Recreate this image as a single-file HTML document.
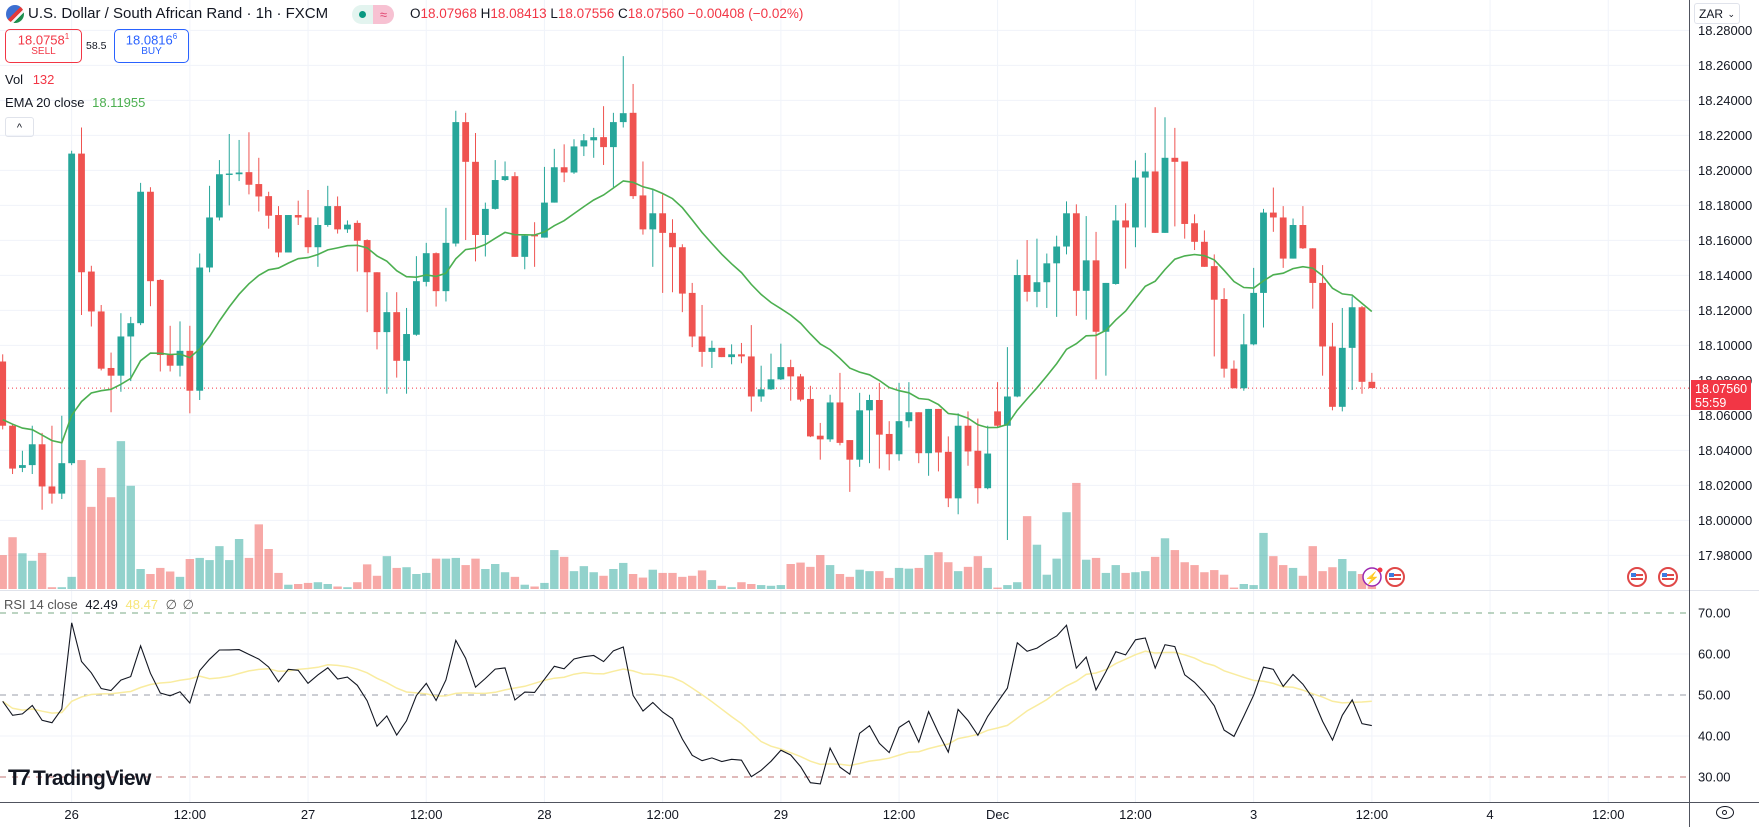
<!DOCTYPE html>
<html><head><meta charset="utf-8">
<style>
html,body{margin:0;padding:0;background:#fff;width:1759px;height:827px;overflow:hidden;font-family:"Liberation Sans",sans-serif;}
#wrap{position:relative;width:1759px;height:827px;}
svg{position:absolute;left:0;top:0;}
.hdr{position:absolute;white-space:nowrap;color:#131722;}
</style></head>
<body>
<div id="wrap">
<svg id="chart" width="1759" height="827"></svg>

<div class="hdr" style="left:6px;top:5px;width:18px;height:18px;border-radius:50%;background:linear-gradient(135deg,#3c6fd1 0 45%,#e03b3b 45% 60%,#f5f5f5 60% 70%,#1e8f4e 70%);"></div>
<div class="hdr" style="left:28px;top:5px;font-size:15px;">U.S. Dollar / South African Rand · 1h · FXCM</div>
<div class="hdr" style="left:352px;top:5px;width:42px;height:19px;border-radius:10px;background:#e3f4ef;overflow:hidden;">
 <span style="position:absolute;left:7px;top:6px;width:7px;height:7px;border-radius:50%;background:#089981;"></span>
 <span style="position:absolute;left:21px;top:0;width:21px;height:19px;background:#f7c1d2;color:#e0466f;font-size:13px;text-align:center;line-height:19px;">≈</span>
</div>
<div class="hdr" style="left:410px;top:6px;font-size:13.5px;color:#f23645;">
<span style="color:#131722">O</span>18.07968 <span style="color:#131722">H</span>18.08413 <span style="color:#131722">L</span>18.07556 <span style="color:#131722">C</span>18.07560 −0.00408 (−0.02%)</div>

<div class="hdr" style="left:5px;top:29px;width:75px;height:32px;border:1px solid #f23645;border-radius:5px;text-align:center;color:#f23645;">
 <div style="font-size:13px;margin-top:2px;">18.0758<sup style="font-size:8px">1</sup></div><div style="font-size:10px;margin-top:-1px;">SELL</div></div>
<div class="hdr" style="left:86px;top:40px;font-size:10.5px;">58.5</div>
<div class="hdr" style="left:114px;top:29px;width:73px;height:32px;border:1px solid #2962ff;border-radius:5px;text-align:center;color:#2962ff;">
 <div style="font-size:13px;margin-top:2px;">18.0816<sup style="font-size:8px">6</sup></div><div style="font-size:10px;margin-top:-1px;">BUY</div></div>

<div class="hdr" style="left:5px;top:72px;font-size:13px;">Vol <span style="color:#f23645;margin-left:6px">132</span></div>
<div class="hdr" style="left:5px;top:95px;font-size:13px;">EMA 20 close <span style="color:#4caf50;margin-left:4px">18.11955</span></div>
<div class="hdr" style="left:5px;top:117px;width:27px;height:18px;border:1px solid #e0e3eb;border-radius:3px;text-align:center;font-size:11px;line-height:20px;">^</div>

<div class="hdr" style="left:4px;top:597px;font-size:13px;color:#555;">RSI 14 close <span style="color:#131722;margin-left:4px">42.49</span> <span style="color:#f7e67a;margin-left:4px">48.47</span> <span style="margin-left:4px">∅</span> <span style="margin-left:2px">∅</span></div>

<div class="hdr" style="left:8px;top:765px;font-size:21px;font-weight:bold;color:#131722;letter-spacing:-0.5px;"><span style="letter-spacing:-3px;font-size:22px;">T7</span> TradingView</div>

<div class="hdr" style="left:1694px;top:3px;width:46px;height:21px;border:1px solid #e0e3eb;border-radius:3px;background:#fff;font-size:12px;line-height:21px;padding-left:4px;box-sizing:border-box;">ZAR <span style="position:absolute;right:4px;font-size:9px;">⌄</span></div>

<div class="hdr" style="left:1691px;top:380px;width:60px;height:30px;background:#f23645;color:#fff;font-size:12.5px;line-height:14px;padding:2px 0 0 4px;box-sizing:border-box;">18.07560<br>55:59</div>

<div class="hdr" style="left:1716px;top:806px;width:18px;height:13px;border:1.5px solid #131722;border-radius:50%;box-sizing:border-box;"><span style="position:absolute;left:5px;top:2.5px;width:5px;height:5px;border:1.2px solid #131722;border-radius:50%;box-sizing:border-box;"></span></div>
</div>

<script>
const opens=[18.0908,18.0541,18.0300,18.0316,18.0435,18.0194,18.0153,18.0327,18.2096,18.1422,
18.1194,18.0871,18.0827,18.1051,18.1127,18.1878,18.1374,18.0945,18.0884,18.0969,
18.0741,18.1445,18.1731,18.1974,18.1978,18.1990,18.1922,18.1853,18.1745,18.1531,
18.1745,18.1731,18.1561,18.1688,18.1796,18.1663,18.1700,18.1602,18.1418,18.1076,
18.1190,18.0912,18.1061,18.1363,18.1527,18.1310,18.1582,18.2276,18.2049,18.1631,
18.1780,18.1945,18.1967,18.1506,18.1631,18.1616,18.1816,18.2018,18.1988,18.2137,
18.2172,18.2190,18.2133,18.2276,18.2329,18.1857,18.1663,18.1755,18.1643,18.1561,
18.1300,18.1051,18.0963,18.0986,18.0933,18.0949,18.0937,18.0708,18.0749,18.0806,
18.0876,18.0823,18.0694,18.0484,18.0463,18.0674,18.0459,18.0347,18.0629,18.0688,
18.0494,18.0378,18.0567,18.0618,18.0384,18.0637,18.0392,18.0126,18.0541,18.0398,
18.0184,18.0623,18.0541,18.0708,18.1402,18.1306,18.1361,18.1469,18.1565,18.1755,
18.1312,18.1486,18.1078,18.1351,18.1714,18.1674,18.1959,18.1994,18.1643,18.2072,
18.2051,18.1698,18.1592,18.1453,18.1265,18.0867,18.0755,18.1006,18.1300,18.1759,
18.1731,18.1496,18.1688,18.1555,18.1357,18.0994,18.0649,18.0986,18.1218,18.0792];
const closes=[18.0541,18.0296,18.0316,18.0435,18.0194,18.0153,18.0327,18.2096,18.1418,18.1194,
18.0867,18.0827,18.1051,18.1127,18.1878,18.1367,18.0945,18.0884,18.0969,18.0741,
18.1445,18.1731,18.1978,18.1982,18.1988,18.1918,18.1851,18.1741,18.1531,18.1745,
18.1731,18.1561,18.1688,18.1796,18.1663,18.1690,18.1598,18.1418,18.1076,18.1190,
18.0912,18.1065,18.1367,18.1527,18.1310,18.1586,18.2276,18.2049,18.1631,18.1780,
18.1945,18.1967,18.1506,18.1627,18.1623,18.1816,18.2018,18.1988,18.2137,18.2172,
18.2190,18.2133,18.2276,18.2327,18.1853,18.1663,18.1755,18.1643,18.1561,18.1296,
18.1051,18.0963,18.0986,18.0933,18.0949,18.0937,18.0708,18.0749,18.0806,18.0876,
18.0823,18.0690,18.0480,18.0463,18.0674,18.0443,18.0347,18.0629,18.0688,18.0490,
18.0378,18.0567,18.0618,18.0384,18.0637,18.0388,18.0126,18.0541,18.0394,18.0184,
18.0382,18.0541,18.0708,18.1402,18.1306,18.1361,18.1469,18.1565,18.1755,18.1312,
18.1486,18.1078,18.1357,18.1714,18.1674,18.1959,18.1994,18.1643,18.2072,18.2049,
18.1694,18.1592,18.1449,18.1261,18.0867,18.0755,18.1006,18.1300,18.1759,18.1731,
18.1496,18.1688,18.1555,18.1357,18.0994,18.0649,18.0986,18.1218,18.0792,18.0756];
const highs=[18.0949,18.0551,18.0398,18.0541,18.0500,18.0541,18.0598,18.2112,18.2245,18.1455,
18.1231,18.0959,18.1184,18.1163,18.1929,18.1904,18.1378,18.1112,18.1137,18.1112,
18.1525,18.1912,18.2059,18.2208,18.2174,18.2218,18.2072,18.1878,18.1796,18.1745,
18.1827,18.1888,18.1731,18.1912,18.1851,18.1714,18.1714,18.1606,18.1418,18.1304,
18.1304,18.1214,18.1510,18.1586,18.1531,18.1786,18.2341,18.2329,18.2214,18.1816,
18.2059,18.2051,18.1990,18.1633,18.1704,18.2020,18.2123,18.2149,18.2178,18.2208,
18.2243,18.2367,18.2329,18.2653,18.2494,18.2051,18.1888,18.1863,18.1721,18.1578,
18.1357,18.1231,18.1027,18.0986,18.1006,18.1014,18.1116,18.0884,18.0953,18.1010,
18.0918,18.0837,18.0769,18.0557,18.0718,18.0843,18.0459,18.0729,18.0718,18.0786,
18.0567,18.0786,18.0790,18.0618,18.0637,18.0637,18.0480,18.0612,18.0623,18.0582,
18.0541,18.0790,18.0990,18.1490,18.1602,18.1610,18.1525,18.1627,18.1823,18.1806,
18.1739,18.1649,18.1357,18.1802,18.1812,18.2057,18.2100,18.2361,18.2304,18.2243,
18.2051,18.1749,18.1657,18.1520,18.1327,18.0914,18.1180,18.1443,18.1780,18.1902,
18.1796,18.1725,18.1796,18.1555,18.1459,18.1129,18.1214,18.1280,18.1225,18.0843];
const lows=[18.0520,18.0265,18.0276,18.0265,18.0061,18.0096,18.0122,18.0316,18.1174,18.1108,
18.0857,18.0618,18.0735,18.0796,18.1116,18.1224,18.0851,18.0851,18.0822,18.0612,
18.0688,18.1418,18.1714,18.1800,18.1939,18.1863,18.1765,18.1667,18.1504,18.1531,
18.1688,18.1527,18.1449,18.1678,18.1639,18.1643,18.1422,18.1190,18.0977,18.0724,
18.0816,18.0724,18.1055,18.1337,18.1222,18.1251,18.1565,18.1602,18.1480,18.1508,
18.1776,18.1939,18.1506,18.1435,18.1449,18.1616,18.1816,18.1933,18.1980,18.2082,
18.2072,18.2031,18.1904,18.2245,18.1837,18.1633,18.1449,18.1300,18.1304,18.1190,
18.0990,18.0878,18.0871,18.0933,18.0892,18.0898,18.0622,18.0678,18.0745,18.0802,
18.0684,18.0680,18.0476,18.0347,18.0449,18.0429,18.0163,18.0306,18.0327,18.0296,
18.0286,18.0341,18.0531,18.0327,18.0255,18.0280,18.0076,18.0035,18.0312,18.0096,
18.0178,18.0531,17.9888,18.0704,18.1251,18.1218,18.1214,18.1163,18.1520,18.1169,
18.1147,18.0806,18.0827,18.1347,18.1439,18.1561,18.1674,18.1643,18.1643,18.1680,
18.1610,18.1545,18.1449,18.0937,18.0816,18.0755,18.0741,18.1000,18.1102,18.1649,
18.1443,18.1496,18.1551,18.1210,18.0827,18.0629,18.0623,18.0745,18.0724,18.0756];
const volumes=[95,145,100,79,101,5,5,34,361,230,339,257,414,289,56,42,59,49,34,84,
87,81,120,81,140,87,181,112,45,12,14,17,19,14,7,5,19,69,37,92,
59,61,42,45,85,85,87,67,85,56,70,47,34,12,7,17,109,90,50,64,
47,37,56,73,42,32,54,45,45,34,37,52,25,9,5,19,14,11,9,11,
70,74,62,95,67,42,34,54,50,50,31,59,57,59,95,103,75,50,62,92,
59,4,11,19,204,124,40,85,215,297,82,87,45,67,45,47,50,90,142,109,
75,67,47,53,40,4,14,11,157,92,67,59,37,120,50,61,84,50,42,37];
const priceTicks=[18.28,18.26,18.24,18.22,18.20,18.18,18.16,18.14,18.12,18.10,18.08,18.06,18.04,18.02,18.00,17.98];
const rsiTicks=[70,60,50,40,30];
const timeTickBars=[7,19,31,43,55,67,79,91,101,115,127,139,151,163];
const timeTickLabels=["26","12:00","27","12:00","28","12:00","29","12:00","Dec","12:00","3","12:00","4","12:00"];
const emaSeed=18.058, rsiSeedGain=0.013, rsiSeedLoss=0.011;

const NS="http://www.w3.org/2000/svg";
const svg=document.getElementById('chart');
const PLOT_R=1689;
const xOf=i=>2.7+i*9.85;
const yP=p=>380.4-(p-18.08)*1750;
const yR=r=>613+(70-r)*4.1;
const VOL_BASE=589, yV=v=>VOL_BASE-v/2.8;
function mk(tag,attrs,parent){const e=document.createElementNS(NS,tag);for(const k in attrs)e.setAttribute(k,attrs[k]);(parent||svg).appendChild(e);return e;}

const grid=mk('g',{});


priceTicks.forEach(p=>{mk('line',{x1:0,x2:PLOT_R,y1:yP(p),y2:yP(p),stroke:'#f0f3fa','stroke-width':1},grid);});
mk('line',{x1:0,x2:PLOT_R,y1:yR(60),y2:yR(60),stroke:'#f0f3fa'},grid);
mk('line',{x1:0,x2:PLOT_R,y1:yR(40),y2:yR(40),stroke:'#f0f3fa'},grid);
timeTickBars.forEach(b=>{mk('line',{x1:xOf(b),x2:xOf(b),y1:0,y2:802,stroke:'#f0f3fa'},grid);});

const sep=mk('line',{x1:0,x2:1759,y1:590.5,y2:590.5,stroke:'#e0e3eb'});


const ax=mk('line',{x1:PLOT_R+0.5,x2:PLOT_R+0.5,y1:0,y2:827,stroke:'#50535e'});


const tax=mk('line',{x1:0,x2:1759,y1:802.5,y2:802.5,stroke:'#50535e'});



const pl=mk('g',{'font-size':13,'fill':'#131722','font-family':'Liberation Sans, sans-serif'});


priceTicks.forEach(p=>{const t=mk('text',{x:1698,y:yP(p)+4.5},pl);t.textContent=p.toFixed(5);});
const rl=mk('g',{'font-size':13,'fill':'#131722','font-family':'Liberation Sans, sans-serif'});


rsiTicks.forEach(r=>{const t=mk('text',{x:1698,y:yR(r)+4.5},rl);t.textContent=r.toFixed(2);});
const tl=mk('g',{'font-size':13,'fill':'#131722','text-anchor':'middle','font-family':'Liberation Sans, sans-serif'});


timeTickBars.forEach((b,k)=>{const t=mk('text',{x:xOf(b),y:819},tl);t.textContent=timeTickLabels[k];});

[[70,'#7aa884'],[50,'#9a9ea8'],[30,'#c07474']].forEach(([r,c])=>{
 const l=mk('line',{x1:0,x2:PLOT_R,y1:yR(r),y2:yR(r),stroke:c,'stroke-dasharray':'6 6'});
 
 
});

const vg=mk('g',{});


volumes.forEach((v,i)=>{
 const up=closes[i]>=opens[i];
 const r=mk('rect',{x:xOf(i)-4.2,y:yV(v),width:8.4,height:v/2.8,fill:up?'rgba(38,166,154,0.5)':'rgba(239,83,80,0.5)'},vg);
 
 
});

const lp=mk('line',{x1:0,x2:PLOT_R,y1:yP(closes[closes.length-1]),y2:yP(closes[closes.length-1]),stroke:'#f23645','stroke-dasharray':'1 3'});



const cg=mk('g',{});


opens.forEach((o,i)=>{
 const c=closes[i],up=c>=o,col=up?'#26a69a':'#ef5350',x=xOf(i);
 const w=mk('line',{x1:x,x2:x,y1:yP(highs[i]),y2:yP(lows[i]),stroke:col,'stroke-width':1},cg);
 
 
 const top=yP(Math.max(o,c)),bot=yP(Math.min(o,c));
 const b=mk('rect',{x:x-3.4,y:top,width:6.8,height:Math.max(1,bot-top),fill:col},cg);
 
 
});

let ema=emaSeed;const k=2/21;const emaPts=[];
closes.forEach((c,i)=>{ema=ema+k*(c-ema);emaPts.push(xOf(i).toFixed(1)+','+yP(ema).toFixed(1));});
const el=mk('polyline',{points:emaPts.join(' '),fill:'none',stroke:'#4caf50','stroke-width':1.6});



let ag=rsiSeedGain,al=rsiSeedLoss,prev=opens[0];const rsi=[];
closes.forEach(c=>{const d=c-prev;prev=c;ag=(ag*13+Math.max(d,0))/14;al=(al*13+Math.max(-d,0))/14;rsi.push(100*ag/(ag+al));});
const ma=rsi.map((_,i)=>{const s=rsi.slice(Math.max(0,i-13),i+1);return s.reduce((a,b)=>a+b,0)/s.length;});
const mal=mk('polyline',{points:ma.map((r,i)=>xOf(i).toFixed(1)+','+yR(r).toFixed(1)).join(' '),fill:'none',stroke:'#f9ec9f','stroke-width':1.5});


const rl2=mk('polyline',{points:rsi.map((r,i)=>xOf(i).toFixed(1)+','+yR(r).toFixed(1)).join(' '),fill:'none',stroke:'#131722','stroke-width':1.1});



function flag(cx,cy,name){
 const g=mk('g',{});
 
 
 mk('circle',{cx:cx,cy:cy,r:9,fill:'#fff',stroke:'#e04848','stroke-width':2},g);
 mk('rect',{x:cx-6,y:cy-3,width:12,height:6,fill:'#e04848'},g);
 mk('rect',{x:cx-6,y:cy-1,width:12,height:2,fill:'#fff'},g);
 mk('rect',{x:cx-6,y:cy-4,width:5,height:4,fill:'#3c7be0'},g);
}
flag(1395,577,'economic-event-flag');
flag(1637,577,'economic-event-flag');
flag(1668,577,'economic-event-flag');
const lg=mk('g',{});


mk('circle',{cx:1372,cy:577,r:9,fill:'#fff',stroke:'#9c27b0','stroke-width':1.5},lg);
const lt=mk('text',{x:1372,y:582,'font-size':12,'text-anchor':'middle',fill:'#9c27b0'},lg);lt.textContent='⚡';
mk('circle',{cx:1380,cy:570,r:2.5,fill:'#f23645'},lg);
</script>
</body></html>
